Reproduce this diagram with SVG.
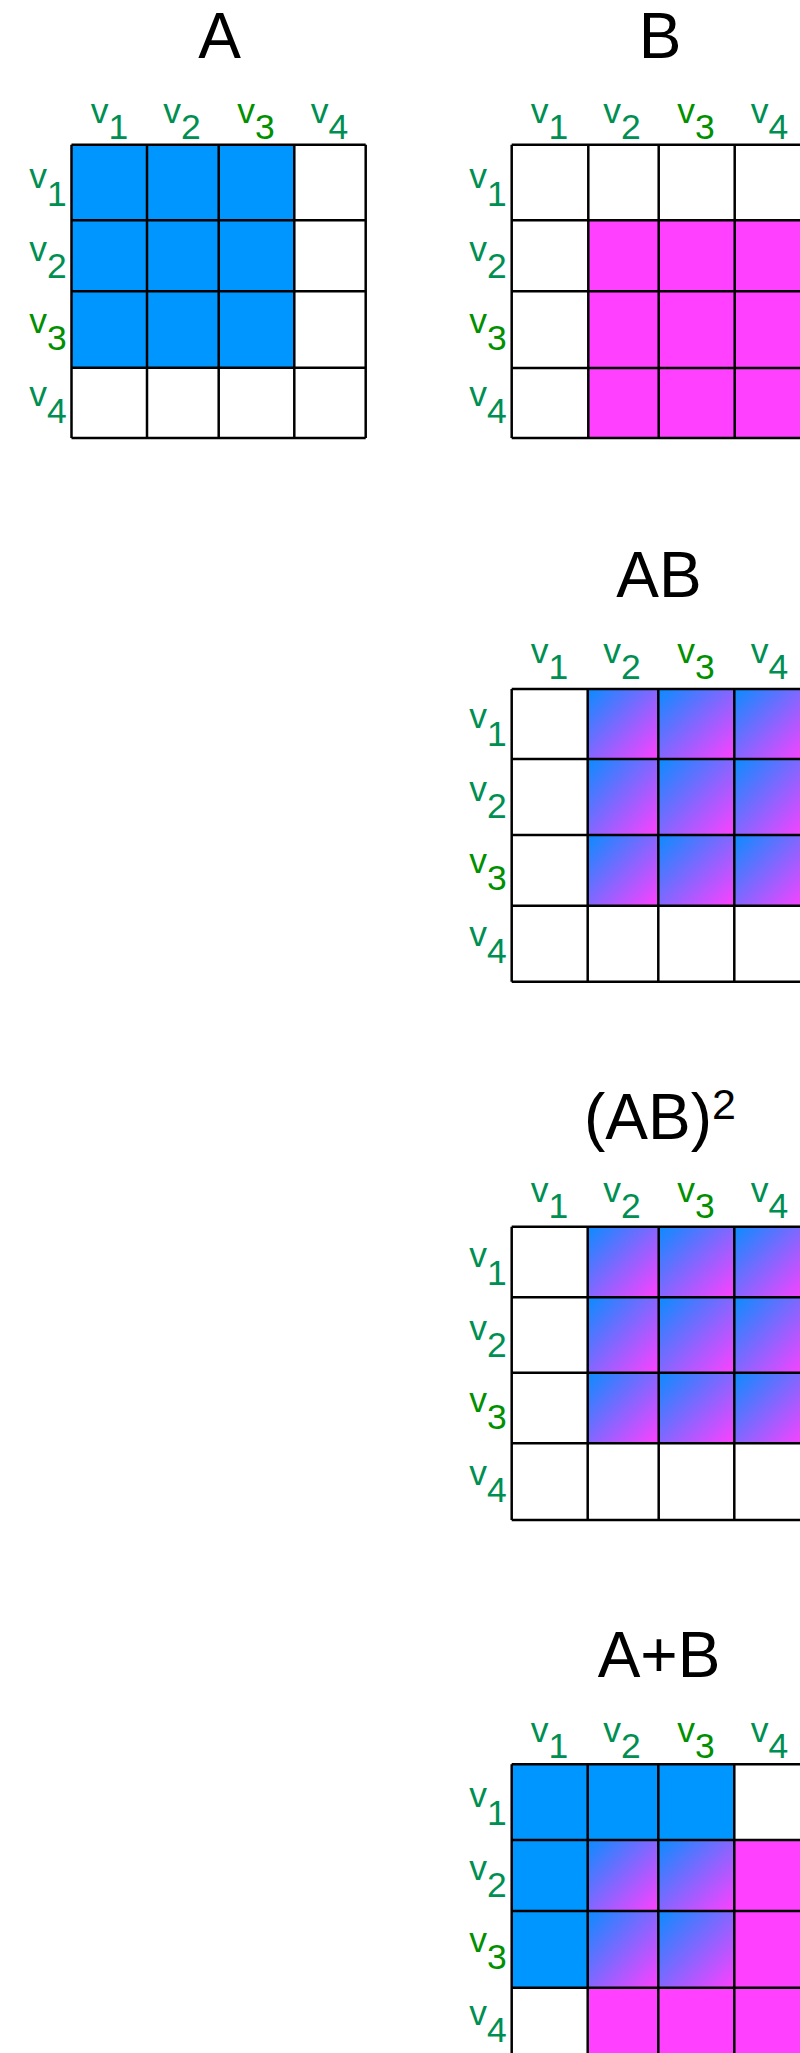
<svg xmlns="http://www.w3.org/2000/svg" width="800" height="2053" viewBox="0 0 800 2053">
<style>
.title{font-family:"Liberation Sans",Arial,sans-serif;font-size:64px;fill:#000}
.lab{font-family:"Liberation Sans",Arial,sans-serif;font-size:35.5px;fill:#008F52}
.lab.g3{fill:#009000}
.grid{stroke:#000;stroke-width:2.5;fill:none}
.blue{fill:#0096FF}
.mag{fill:#FF40FF}
.grad{fill:url(#bm)}
</style>
<defs>
<linearGradient id="bm" x1="0" y1="0" x2="1" y2="1">
<stop offset="0" stop-color="#0A8CFF"/>
<stop offset="1" stop-color="#FF40FF"/>
</linearGradient>
<g id="labels">
<text class="lab" x="90.7" y="122.7">v<tspan dy="16.6">1</tspan></text>
<text class="lab" x="163.3" y="122.7">v<tspan dy="16.6">2</tspan></text>
<text class="lab g3" x="237.3" y="122.7">v<tspan dy="16.6">3</tspan></text>
<text class="lab" x="310.7" y="122.7">v<tspan dy="16.6">4</tspan></text>
<text class="lab" x="29.3" y="188.3">v<tspan dy="17.4">1</tspan></text>
<text class="lab" x="29.3" y="260.7">v<tspan dy="17.4">2</tspan></text>
<text class="lab g3" x="29.3" y="333">v<tspan dy="17.4">3</tspan></text>
<text class="lab" x="29.3" y="406">v<tspan dy="17.4">4</tspan></text>
</g>
</defs>

<g id="matrix-A">
<text class="title" x="219.5" y="57.7" text-anchor="middle">A</text>
<use href="#labels"/>
<rect class="blue" x="71.5" y="144.7" width="222.8" height="223"/>
<path class="grid" d="M71.5 144.7H365.7M71.5 220.3H365.7M71.5 291.3H365.7M71.5 367.7H365.7M71.5 438H365.7M71.5 144.7V438M147 144.7V438M218.7 144.7V438M294.3 144.7V438M365.7 144.7V438"/>
</g>

<g id="matrix-B">
<text class="title" x="660" y="57.7" text-anchor="middle">B</text>
<use href="#labels" transform="translate(440 0)"/>
<rect class="mag" x="588.3" y="220.3" width="217.7" height="217.7"/>
<path class="grid" d="M511.7 144.7H806M511.7 220.3H806M511.7 291.3H806M511.7 368H806M511.7 438H806M511.7 144.7V438M588.3 144.7V438M658.7 144.7V438M734.7 144.7V438M806 144.7V438"/>
</g>

<g id="matrix-AB">
<text class="title" x="659" y="596.7" text-anchor="middle">AB</text>
<use href="#labels" transform="translate(440 540)"/>
<rect class="grad" x="587.7" y="689" width="70.6" height="70"/>
<rect class="grad" x="658.3" y="689" width="76" height="70"/>
<rect class="grad" x="734.3" y="689" width="71.7" height="70"/>
<rect class="grad" x="587.7" y="759" width="70.6" height="76"/>
<rect class="grad" x="658.3" y="759" width="76" height="76"/>
<rect class="grad" x="734.3" y="759" width="71.7" height="76"/>
<rect class="grad" x="587.7" y="835" width="70.6" height="70.7"/>
<rect class="grad" x="658.3" y="835" width="76" height="70.7"/>
<rect class="grad" x="734.3" y="835" width="71.7" height="70.7"/>
<path class="grid" d="M511.7 689H806M511.7 759H806M511.7 835H806M511.7 905.7H806M511.7 981.7H806M511.7 689V981.7M587.7 689V981.7M658.3 689V981.7M734.3 689V981.7M806 689V981.7"/>
</g>

<g id="matrix-AB2">
<text class="title" x="660" y="1139.3" text-anchor="middle">(AB)<tspan dy="-20" font-size="43">2</tspan></text>
<use href="#labels" transform="translate(440 1079)"/>
<rect class="grad" x="587.7" y="1226.7" width="71" height="70.6"/>
<rect class="grad" x="658.7" y="1226.7" width="75.6" height="70.6"/>
<rect class="grad" x="734.3" y="1226.7" width="71.7" height="70.6"/>
<rect class="grad" x="587.7" y="1297.3" width="71" height="75.4"/>
<rect class="grad" x="658.7" y="1297.3" width="75.6" height="75.4"/>
<rect class="grad" x="734.3" y="1297.3" width="71.7" height="75.4"/>
<rect class="grad" x="587.7" y="1372.7" width="71" height="70.6"/>
<rect class="grad" x="658.7" y="1372.7" width="75.6" height="70.6"/>
<rect class="grad" x="734.3" y="1372.7" width="71.7" height="70.6"/>
<path class="grid" d="M511.7 1226.7H806M511.7 1297.3H806M511.7 1372.7H806M511.7 1443.3H806M511.7 1520H806M511.7 1226.7V1520M587.7 1226.7V1520M658.7 1226.7V1520M734.3 1226.7V1520M806 1226.7V1520"/>
</g>

<g id="matrix-AplusB">
<text class="title" x="659" y="1676.7" text-anchor="middle">A+B</text>
<use href="#labels" transform="translate(440 1619)"/>
<rect class="blue" x="511.7" y="1764.3" width="222.6" height="75.7"/>
<rect class="blue" x="511.7" y="1840" width="76" height="147.7"/>
<rect class="grad" x="587.7" y="1840" width="70.6" height="71"/>
<rect class="grad" x="658.3" y="1840" width="76" height="71"/>
<rect class="grad" x="587.7" y="1911" width="70.6" height="76.7"/>
<rect class="grad" x="658.3" y="1911" width="76" height="76.7"/>
<rect class="mag" x="734.3" y="1840" width="71.7" height="147.7"/>
<rect class="mag" x="587.7" y="1987.7" width="218.3" height="70.3"/>
<path class="grid" d="M511.7 1764.3H806M511.7 1840H806M511.7 1911H806M511.7 1987.7H806M511.7 2058H806M511.7 1764.3V2058M587.7 1764.3V2058M658.3 1764.3V2058M734.3 1764.3V2058M806 1764.3V2058"/>
</g>

<g id="connectors"/>
</svg>
